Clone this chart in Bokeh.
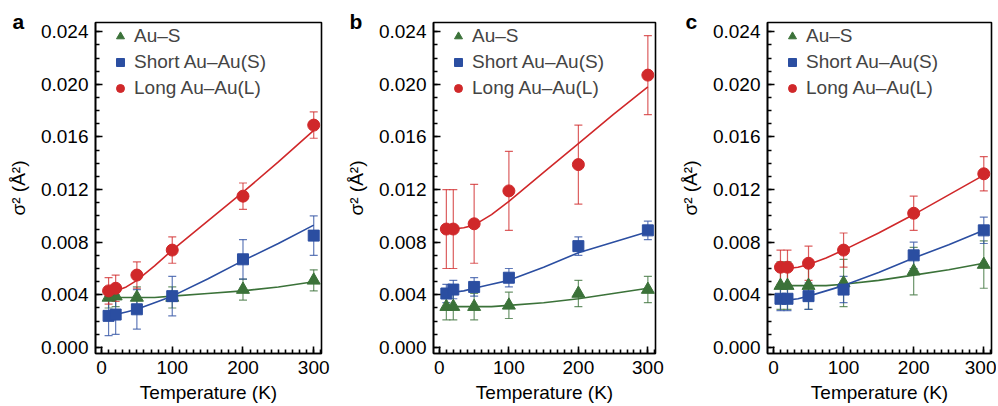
from bokeh.plotting import figure
from bokeh.models import (ColumnDataSource, Whisker, TeeHead, Legend, LegendItem,
                          Range1d, FixedTicker, CustomJSTickFormatter)
from bokeh.layouts import row
from bokeh.embed import file_html
from bokeh.resources import INLINE

FONT = "Liberation Sans"

# ---------------- data ----------------
temps = [10, 20, 50, 100, 200, 300]
fit_t = [10, 20, 35, 50, 75, 100, 150, 200, 250, 300]

# panel a
a_aus = [0.0038, 0.0039, 0.0038, 0.0038, 0.0044, 0.0051]
a_aus_err = [0.0008, 0.0008, 0.0008, 0.0008, 0.0008, 0.0008]
a_short = [0.0024, 0.0025, 0.0029, 0.0039, 0.0067, 0.0085]
a_short_err = [0.0015, 0.0015, 0.0015, 0.0015, 0.0015, 0.0015]
a_long = [0.0043, 0.0045, 0.0055, 0.0074, 0.0115, 0.0169]
a_long_err = [0.0010, 0.0010, 0.0010, 0.0010, 0.0010, 0.0010]
a_aus_fit = [0.0038, 0.0038, 0.0038, 0.0038, 0.0038, 0.0039, 0.0041, 0.0043, 0.0046, 0.0050]
a_short_fit = [0.0024, 0.0025, 0.0027, 0.0029, 0.0034, 0.0039, 0.0052, 0.0066, 0.0079, 0.0093]
a_long_fit = [0.0042, 0.0043, 0.0046, 0.0051, 0.0062, 0.0074, 0.0096, 0.0118, 0.0141, 0.0165]

# panel b
b_aus = [0.0031, 0.0031, 0.0031, 0.0032, 0.0041, 0.0044]
b_aus_err = [0.0010, 0.0010, 0.0010, 0.0010, 0.0010, 0.0010]
b_short = [0.0041, 0.0044, 0.0046, 0.0053, 0.0077, 0.0089]
b_short_err = [0.0007, 0.0007, 0.0007, 0.0007, 0.0007, 0.0007]
b_long = [0.0090, 0.0090, 0.0094, 0.0119, 0.0139, 0.0207]
b_long_err = [0.0030, 0.0030, 0.0030, 0.0030, 0.0030, 0.0030]
b_aus_fit = [0.0031, 0.0031, 0.0031, 0.0031, 0.0031, 0.0032, 0.0034, 0.0037, 0.0041, 0.0045]
b_short_fit = [0.0041, 0.0042, 0.0043, 0.0045, 0.0048, 0.0051, 0.0061, 0.0072, 0.0080, 0.0088]
b_long_fit = [0.0090, 0.0090, 0.0091, 0.0093, 0.0101, 0.0111, 0.0133, 0.0155, 0.0177, 0.0198]

# panel c
c_aus = [0.0047, 0.0047, 0.0047, 0.0049, 0.0058, 0.0063]
c_aus_err = [0.0018, 0.0018, 0.0018, 0.0018, 0.0018, 0.0018]
c_short = [0.0037, 0.0037, 0.0039, 0.0044, 0.0070, 0.0089]
c_short_err = [0.0009, 0.0009, 0.0010, 0.0010, 0.0010, 0.0010]
c_long = [0.0061, 0.0061, 0.0064, 0.0074, 0.0102, 0.0132]
c_long_err = [0.0013, 0.0013, 0.0013, 0.0013, 0.0013, 0.0013]
c_aus_fit = [0.0047, 0.0047, 0.0047, 0.0047, 0.0047, 0.0048, 0.0051, 0.0055, 0.0059, 0.0064]
c_short_fit = [0.0036, 0.0036, 0.0037, 0.0039, 0.0043, 0.0047, 0.0057, 0.0068, 0.0078, 0.0089]
c_long_fit = [0.0060, 0.0060, 0.0061, 0.0063, 0.0068, 0.0074, 0.0087, 0.0101, 0.0116, 0.0131]

series_names = ["Au–S", "Short Au–Au(S)", "Long Au–Au(L)"]
panel_letters = ["a", "b", "c"]
y_ticks = [0.000, 0.004, 0.008, 0.012, 0.016, 0.020, 0.024]
x_ticks = [0, 100, 200, 300]

GREEN = "#3b7239"
BLUE = "#2b4ea1"
RED = "#d0282a"
colors = [GREEN, BLUE, RED]
markers = ["triangle", "square", "circle"]
msizes = [13, 11, 12]

panels = [
    (a_aus, a_aus_err, a_aus_fit, a_short, a_short_err, a_short_fit, a_long, a_long_err, a_long_fit),
    (b_aus, b_aus_err, b_aus_fit, b_short, b_short_err, b_short_fit, b_long, b_long_err, b_long_fit),
    (c_aus, c_aus_err, c_aus_fit, c_short, c_short_err, c_short_fit, c_long, c_long_err, c_long_fit),
]

widths = [342, 334, 320]
left_b = [95, 87, 88]
right_b = [21, 21, 5]
letter_dx = [-83, -84, -82]

figs = []
for i, pdata in enumerate(panels):
    p = figure(width=widths[i], height=406, output_backend="svg", toolbar_location=None,
               x_range=Range1d(-8.5, 311), y_range=Range1d(-0.00046, 0.0247),
               min_border_left=left_b[i], min_border_right=right_b[i],
               min_border_top=22, min_border_bottom=53)
    p.grid.visible = False
    p.outline_line_color = "black"
    p.outline_line_width = 1.6
    p.background_fill_color = "white"
    p.border_fill_color = "white"

    # panel letter
    p.title.text = panel_letters[i]
    p.title.align = "left"
    p.title.vertical_align = "bottom"
    p.title.offset = letter_dx[i]
    p.title.standoff = -21
    p.title.text_font = FONT
    p.title.text_font_size = "21px"
    p.title.text_font_style = "bold"
    p.title.text_color = "black"

    legend_items = []
    for k in range(3):
        vals = pdata[3 * k]
        errs = pdata[3 * k + 1]
        fit = pdata[3 * k + 2]
        up = [v + e for v, e in zip(vals, errs)]
        lo = [v - e for v, e in zip(vals, errs)]
        src = ColumnDataSource(dict(t=temps, v=vals, up=up, lo=lo))
        w = Whisker(source=src, base="t", upper="up", lower="lo", dimension="height",
                    line_color=colors[k], line_alpha=0.75, line_width=1.2,
                    upper_head=TeeHead(size=8, line_color=colors[k], line_alpha=0.75, line_width=1.2),
                    lower_head=TeeHead(size=8, line_color=colors[k], line_alpha=0.75, line_width=1.2))
        p.add_layout(w)
        p.line(fit_t, fit, line_color=colors[k], line_width=1.6)
        r = p.scatter("t", "v", source=src, marker=markers[k], size=msizes[k],
                      fill_color=colors[k], line_color=colors[k])
        legend_items.append(LegendItem(label=series_names[k], renderers=[r]))

    leg = Legend(items=legend_items, location=(15, 254), orientation="vertical",
                 glyph_width=20, glyph_height=20, label_height=20, spacing=4,
                 label_standoff=4, padding=0, margin=0,
                 label_text_font=FONT, label_text_font_size="19px",
                 background_fill_alpha=0, border_line_alpha=0)
    p.add_layout(leg)

    p.xaxis.ticker = FixedTicker(ticks=x_ticks, minor_ticks=list(range(0, 311, 10)))
    p.yaxis.ticker = FixedTicker(ticks=y_ticks,
                                 minor_ticks=[k * 0.001 for k in range(0, 25)])
    p.yaxis.formatter = CustomJSTickFormatter(code="return tick.toFixed(3);")
    for ax in (p.xaxis[0], p.yaxis[0]):
        ax.axis_line_color = "black"
        ax.axis_line_width = 1.6
        ax.major_tick_in = 7
        ax.major_tick_out = 0
        ax.minor_tick_in = 4
        ax.minor_tick_out = 0
        ax.major_tick_line_width = 1.6
        ax.minor_tick_line_width = 1.6
        ax.major_label_text_font = FONT
        ax.major_label_text_font_size = "19px"
        ax.major_label_text_color = "black"
        ax.axis_label_text_font = FONT
        ax.axis_label_text_font_size = "19px"
        ax.axis_label_text_font_style = "normal"
        ax.axis_label_text_color = "black"
    p.xaxis.major_label_standoff = 7
    p.yaxis.major_label_standoff = 7
    p.xaxis.axis_label = "Temperature (K)"
    p.xaxis.axis_label_standoff = 5
    p.yaxis.axis_label = "σ² (Å²)"
    p.yaxis.axis_label_standoff = 9
    figs.append(p)

layout = row(*figs, spacing=0)
open("out.html", "w").write(file_html(layout, INLINE))
